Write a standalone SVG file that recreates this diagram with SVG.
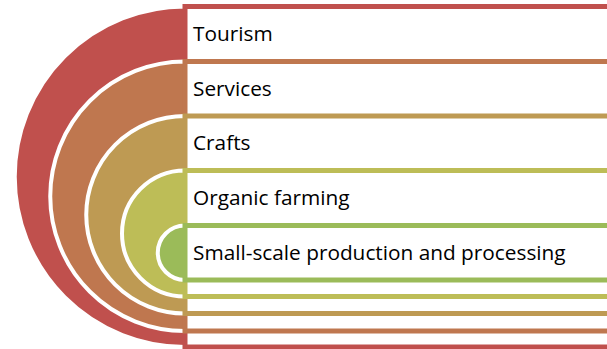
<svg xmlns="http://www.w3.org/2000/svg" width="607" height="349" viewBox="0 0 607 349">
  <style>
    .disc { stroke: #ffffff; stroke-width: 4; }
    .box { fill: #ffffff; stroke-width: 5; }
    .lbl { font-family: "Open Sans", "Noto Sans", "Liberation Sans", sans-serif; font-size: 20.8px; fill: #000000; }
  </style>
  <rect width="607" height="349" fill="#ffffff"/>
  <g id="level1">
    <path class="disc" fill="#C0504D" d="M185,6.5 A170.25,170.25 0 0 0 185,347 Z"/>
    <rect class="box" stroke="#C0504D" x="185" y="6.5" width="440" height="340.5"/>
    <text class="lbl" x="193" y="41">Tourism</text>
  </g>
  <g id="level2">
    <path class="disc" fill="#BF774F" d="M185,61.5 A134.75,134.75 0 0 0 185,331 Z"/>
    <rect class="box" stroke="#BF774F" x="185" y="61.5" width="440" height="269.5"/>
    <text class="lbl" x="193" y="95.5">Services</text>
  </g>
  <g id="level3">
    <path class="disc" fill="#BE9A53" d="M185,116 A98.75,98.75 0 0 0 185,313.5 Z"/>
    <rect class="box" stroke="#BE9A53" x="185" y="116" width="440" height="197.5"/>
    <text class="lbl" x="193" y="150">Crafts</text>
  </g>
  <g id="level4">
    <path class="disc" fill="#BDBD57" d="M185,170.5 A63,63 0 0 0 185,296.5 Z"/>
    <rect class="box" stroke="#BDBD57" x="185" y="170.5" width="440" height="126"/>
    <text class="lbl" x="193" y="205">Organic farming</text>
  </g>
  <g id="level5">
    <path class="disc" fill="#9BBB59" d="M185,225.5 A27.25,27.25 0 0 0 185,280 Z"/>
    <rect class="box" stroke="#9BBB59" x="185" y="225.5" width="440" height="54.5"/>
    <text class="lbl" x="193" y="259.5">Small-scale production and processing</text>
  </g>
  <g id="connectors"/>
</svg>
